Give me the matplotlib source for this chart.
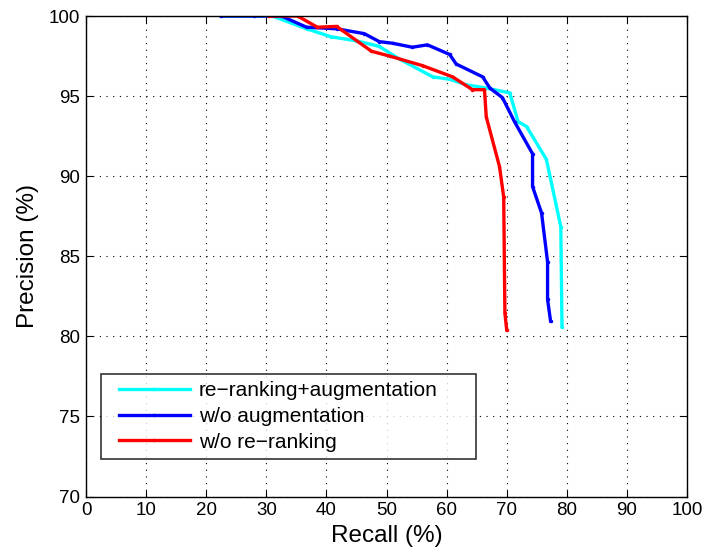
import matplotlib
matplotlib.use("Agg")
import matplotlib.pyplot as plt
from matplotlib.legend_handler import HandlerLine2D

plt.rcParams['font.family'] = ['Liberation Sans', 'DejaVu Sans']

# Precision-recall curves (%)
recall_full = [22.5, 28.0, 31.0, 36.7, 40.8, 45.0, 48.8, 52.2, 57.7, 60.5, 63.3,
               65.0, 66.6, 70.5, 71.9, 73.3, 76.6, 79.0, 79.2]
precision_full = [100.0, 100.0, 100.0, 99.2, 98.7, 98.45, 98.1, 97.3, 96.2, 96.05, 95.7,
                  95.6, 95.5, 95.2, 93.4, 93.1, 91.05, 86.85, 80.6]

recall_noaug = [22.5, 28.0, 32.5, 36.7, 41.7, 46.3, 48.8, 51.0, 54.3, 56.8, 60.5,
                61.6, 66.0, 67.2, 69.3, 71.3, 74.3, 74.3, 75.8, 76.8, 76.8, 77.3]
precision_noaug = [100.0, 100.0, 100.0, 99.3, 99.2, 98.9, 98.4, 98.3, 98.05, 98.2, 97.6,
                   97.0, 96.2, 95.5, 94.9, 93.4, 91.4, 89.35, 87.7, 84.65, 82.3, 80.95]

recall_norerank = [30.5, 35.2, 38.5, 41.7, 47.5, 50.5, 56.0, 61.0, 64.3, 66.3, 66.6,
                   68.8, 69.5, 69.7, 70.0]
precision_norerank = [100.0, 100.0, 99.3, 99.35, 97.8, 97.5, 96.9, 96.2, 95.4, 95.4, 93.7,
                      90.6, 88.7, 81.45, 80.4]

labels = ['re\u2212ranking+augmentation', 'w/o augmentation', 'w/o re\u2212ranking']
colors = ['#00FFFF', '#0000FF', '#FF0000']


class InsetLineHandler(HandlerLine2D):
    """Legend line sample indented from the left edge of its handle box."""

    def __init__(self, inset_px=8, **kw):
        super().__init__(**kw)
        self.inset_px = inset_px

    def get_xdata(self, legend, xdescent, ydescent, width, height, fontsize):
        x0 = -xdescent + self.inset_px
        x1 = -xdescent + width
        return [x0, x1], [0.5 * (x0 + x1)]


fig = plt.figure(figsize=(7.12, 5.52), dpi=100)
ax = fig.add_axes([86 / 712, 1 - 496.5 / 552, 601 / 712, 480.5 / 552])

series = [(recall_full, precision_full), (recall_noaug, precision_noaug),
          (recall_norerank, precision_norerank)]
lines = []
for (r, p), lab, c in zip(series, labels, colors):
    ln, = ax.plot(r, p, '-', marker='.', markersize=3, color=c, linewidth=2.4, label=lab)
    lines.append(ln)

ax.set_xlim(0, 100)
ax.set_ylim(70, 100)
ax.set_xticks(range(0, 101, 10))
ax.set_yticks(range(70, 101, 5))
ax.grid(True, linestyle=(0, (1, 5)), color='black', linewidth=0.8)
ax.tick_params(direction='in', length=5, labelsize=13.5, top=True, right=True, pad=4)
for s in ax.spines.values():
    s.set_linewidth(1.0)

ax.set_xlabel('Recall (%)', fontsize=17.5, labelpad=4)
ax.set_ylabel('Precision (%)', fontsize=17.5, labelpad=7)

leg = ax.legend(handles=lines, loc='upper left',
                bbox_to_anchor=((101 - 86) / 601, (496.5 - 374) / 480.5,
                                (476 - 101) / 601, 0),
                mode='expand', fontsize=15, frameon=True, fancybox=False,
                edgecolor='black', handlelength=3.9, handletextpad=0.45,
                labelspacing=0.32, borderpad=0.35, borderaxespad=0,
                handler_map={ln: InsetLineHandler(inset_px=8) for ln in lines})
leg.get_frame().set_linewidth(1.2)

fig.savefig('out.png', dpi=100)
